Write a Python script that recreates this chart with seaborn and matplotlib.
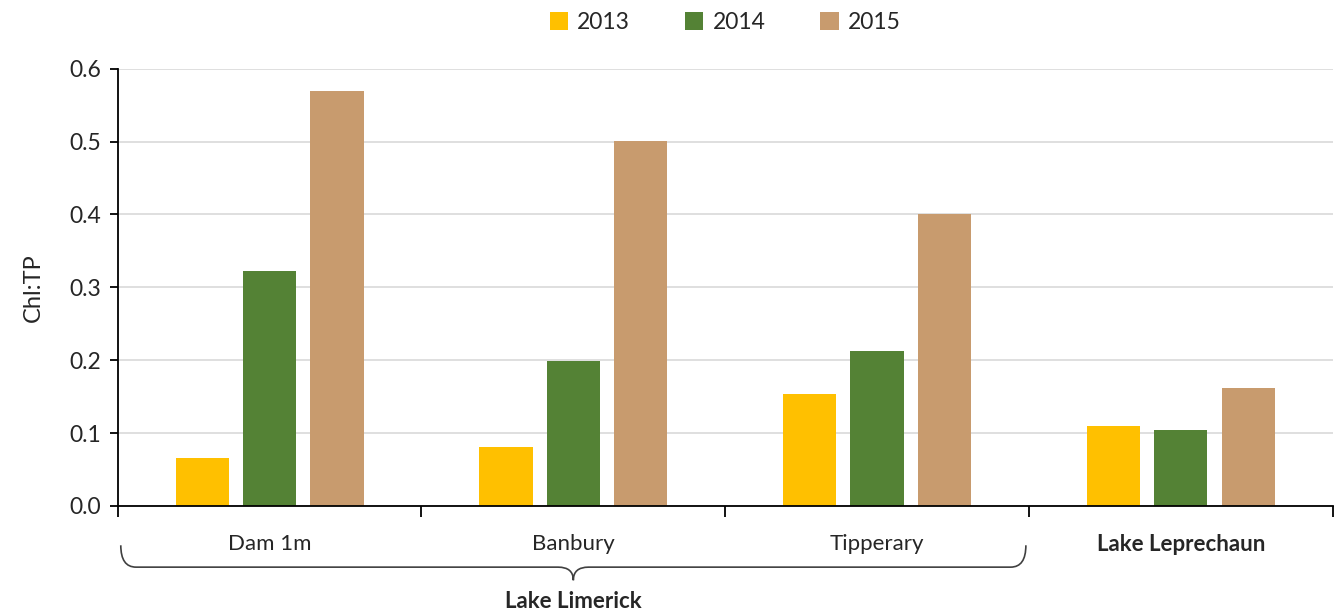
import numpy as np
import pandas as pd
import seaborn as sns
import matplotlib.pyplot as plt
from matplotlib.path import Path
from matplotlib.patches import PathPatch

sites = ['Dam 1m', 'Banbury', 'Tipperary', 'Lake Leprechaun']
years = ['2013', '2014', '2015']
v2013 = [0.066, 0.081, 0.154, 0.110]
v2014 = [0.323, 0.199, 0.213, 0.104]
v2015 = [0.570, 0.501, 0.401, 0.162]
colors = ['#FFC000', '#548235', '#C89B6E']

df = pd.DataFrame({'site': sites * 3,
                   'year': [y for y in years for _ in sites],
                   'val': v2013 + v2014 + v2015})

sns.set_style('white')
plt.rcParams['font.family'] = ['Lato', 'DejaVu Sans']

fig, ax = plt.subplots(figsize=(13.38, 6.14), dpi=100)
fig.subplots_adjust(left=0.088, right=0.996, top=0.888, bottom=0.176)

sns.barplot(data=df, x='site', y='val', hue='year', palette=colors,
            width=0.666, gap=0.21, ax=ax, saturation=1, linewidth=0)

ax.set_ylim(0, 0.6)
ax.set_xlim(-0.5, 3.5)
ax.set_yticks(np.arange(0, 0.61, 0.1))
ax.set_yticklabels(['%.1f' % t for t in np.arange(0, 0.61, 0.1)], fontsize=16.5)
ax.yaxis.grid(True, color='#d9d9d9', linewidth=1.2)
ax.set_axisbelow(True)
ax.set_ylabel('Chl:TP', fontsize=17, labelpad=18)
ax.set_xlabel('')

for s in ['top', 'right']:
    ax.spines[s].set_visible(False)
for s in ['left', 'bottom']:
    ax.spines[s].set_color('black')
    ax.spines[s].set_linewidth(1.3)
ax.tick_params(axis='y', left=True, length=6, width=1.3, color='black', pad=6)

# category labels between boundary ticks
ax.set_xticks(range(4))
ax.set_xticklabels(sites, fontsize=16)
ax.tick_params(axis='x', which='major', length=0, pad=20)
ax.get_xticklabels()[3].set_fontweight('bold')
ax.set_xticks(np.arange(-0.5, 3.6, 1), minor=True)
ax.tick_params(axis='x', which='minor', bottom=True, length=8, width=1.3, color='black')

# brace under Lake Limerick sites
trans = ax.get_xaxis_transform()
x0, x1, xm = -0.49, 2.49, 1.0
ytop, ymid, ybot = -0.09, -0.14, -0.17
verts = [(x0, ytop), (x0, ymid), (x0 + 0.05, ymid), (xm - 0.05, ymid),
         (xm, ymid), (xm, ybot), (xm, ymid), (xm + 0.05, ymid),
         (x1 - 0.05, ymid), (x1, ymid), (x1, ytop)]
codes = [Path.MOVETO, Path.CURVE3, Path.CURVE3, Path.LINETO,
         Path.CURVE3, Path.CURVE3, Path.CURVE3, Path.CURVE3,
         Path.LINETO, Path.CURVE3, Path.CURVE3]
ax.add_patch(PathPatch(Path(verts, codes), transform=trans, fill=False,
                       edgecolor='#404040', linewidth=1.2, clip_on=False))
ax.text(xm, -0.195, 'Lake Limerick', transform=trans, ha='center', va='top',
        fontsize=16, fontweight='bold')

ax.legend(loc='lower center', bbox_to_anchor=(0.5, 1.035), ncol=3, frameon=False,
          fontsize=16.5, handlelength=0.8, handleheight=0.8, columnspacing=2.4,
          handletextpad=0.4)

fig.savefig('out.png', dpi=100)
